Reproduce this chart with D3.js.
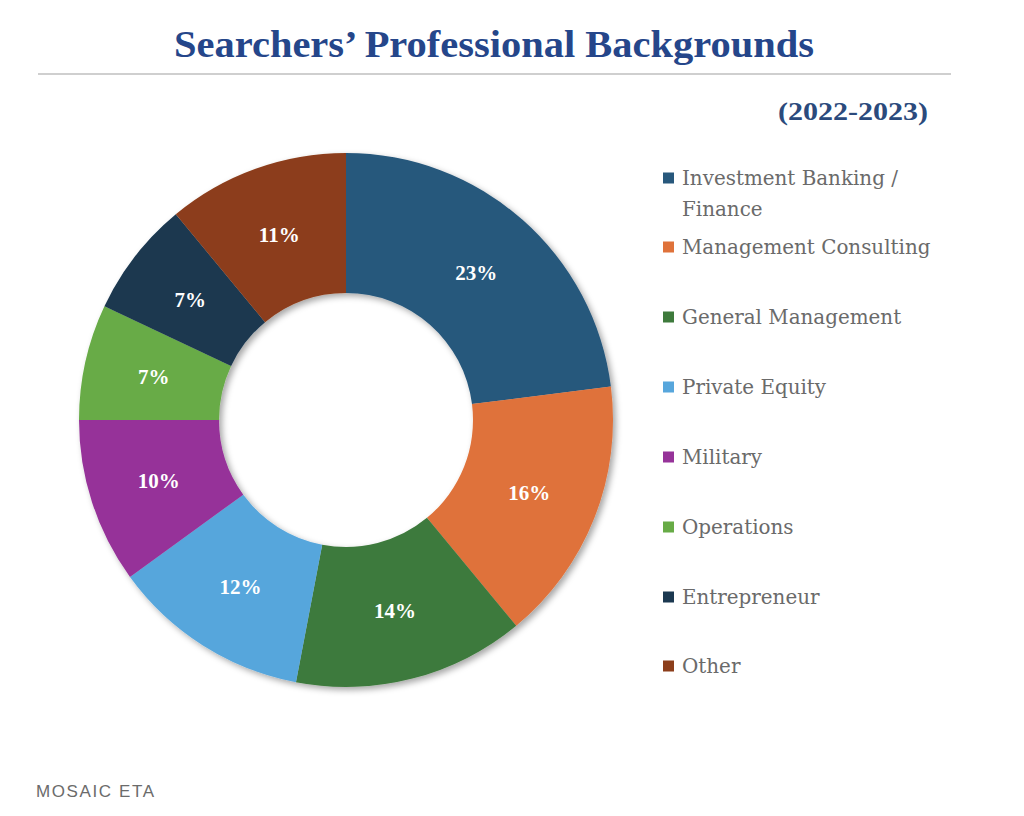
<!DOCTYPE html>
<html><head><meta charset="utf-8">
<script src="https://cdn.jsdelivr.net/npm/d3@7"></script>
<style>body{margin:0;background:#fff}svg{display:block}</style>
</head><body>
<svg id="c" width="1024" height="816"></svg>
<script>
const categories = ["Investment Banking / Finance","Management Consulting","General Management","Private Equity","Military","Operations","Entrepreneur","Other"];
const values = [23,16,14,12,10,7,7,11];
const colors = ["#28587c","#df723a","#3e7a3c","#57a6dc","#963399","#67ab46","#1b3850","#8c3e1b"];
const legendLines = [["Investment Banking /","Finance"],["Management Consulting"],["General Management"],["Private Equity"],["Military"],["Operations"],["Entrepreneur"],["Other"]];

const svg = d3.select("#c");
const defs = svg.append("defs");
const f = defs.append("filter").attr("id","sh").attr("x","-20%").attr("y","-20%").attr("width","140%").attr("height","140%");
f.append("feDropShadow").attr("dx",3).attr("dy",3).attr("stdDeviation",3).attr("flood-color","#000").attr("flood-opacity",0.35);

svg.append("text").attr("x",494).attr("y",57).attr("text-anchor","middle")
  .attr("font-family","Liberation Serif, serif").attr("font-weight","bold").attr("font-size",37)
  .attr("fill","#25468a").attr("textLength",640).attr("lengthAdjust","spacingAndGlyphs")
  .text("Searchers\u2019 Professional Backgrounds");
svg.append("line").attr("x1",38).attr("x2",951).attr("y1",74).attr("y2",74).attr("stroke","#cfcfcf").attr("stroke-width",2);
svg.append("text").attr("x",778).attr("y",120)
  .attr("font-family","Liberation Serif, serif").attr("font-weight","bold").attr("font-size",26)
  .attr("fill","#2b4a7c").attr("textLength",150).attr("lengthAdjust","spacingAndGlyphs").text("(2022-2023)");

const cx=346, cy=420, R=267, r0=127;
const pie = d3.pie().sort(null).value(d=>d)(values);
const arc = d3.arc().innerRadius(r0).outerRadius(R);
const g = svg.append("g").attr("transform",`translate(${cx},${cy})`);
g.append("g").attr("filter","url(#sh)").selectAll("path").data(pie).join("path")
  .attr("d",arc).attr("fill",(d,i)=>colors[i]);
g.selectAll("text").data(pie).join("text")
  .attr("transform",d=>`translate(${arc.centroid(d)})`)
  .attr("text-anchor","middle").attr("dy","0.35em")
  .attr("font-family","Liberation Serif, serif").attr("font-weight","bold").attr("font-size",21)
  .attr("fill","#fff").text(d=>d.data+"%");

const ly = [178,247,317,387,457,527,597,666];
const lg = svg.append("g");
legendLines.forEach((lines,i)=>{
  lg.append("rect").attr("x",663).attr("y",ly[i]-5.5).attr("width",11).attr("height",11).attr("fill",colors[i]);
  lines.forEach((t,j)=>{
    lg.append("text").attr("x",682).attr("y",ly[i]+31*j).attr("dy","0.35em")
      .attr("font-family","DejaVu Serif, serif").attr("font-size",19.9).attr("fill","#6a6a6a").text(t);
  });
});

svg.append("text").attr("x",36).attr("y",797).attr("font-family","Liberation Sans, Arial, sans-serif")
  .attr("font-size",17).attr("letter-spacing",1.6).attr("fill","#6b6b6b").text("MOSAIC ETA");
</script>
</body></html>
